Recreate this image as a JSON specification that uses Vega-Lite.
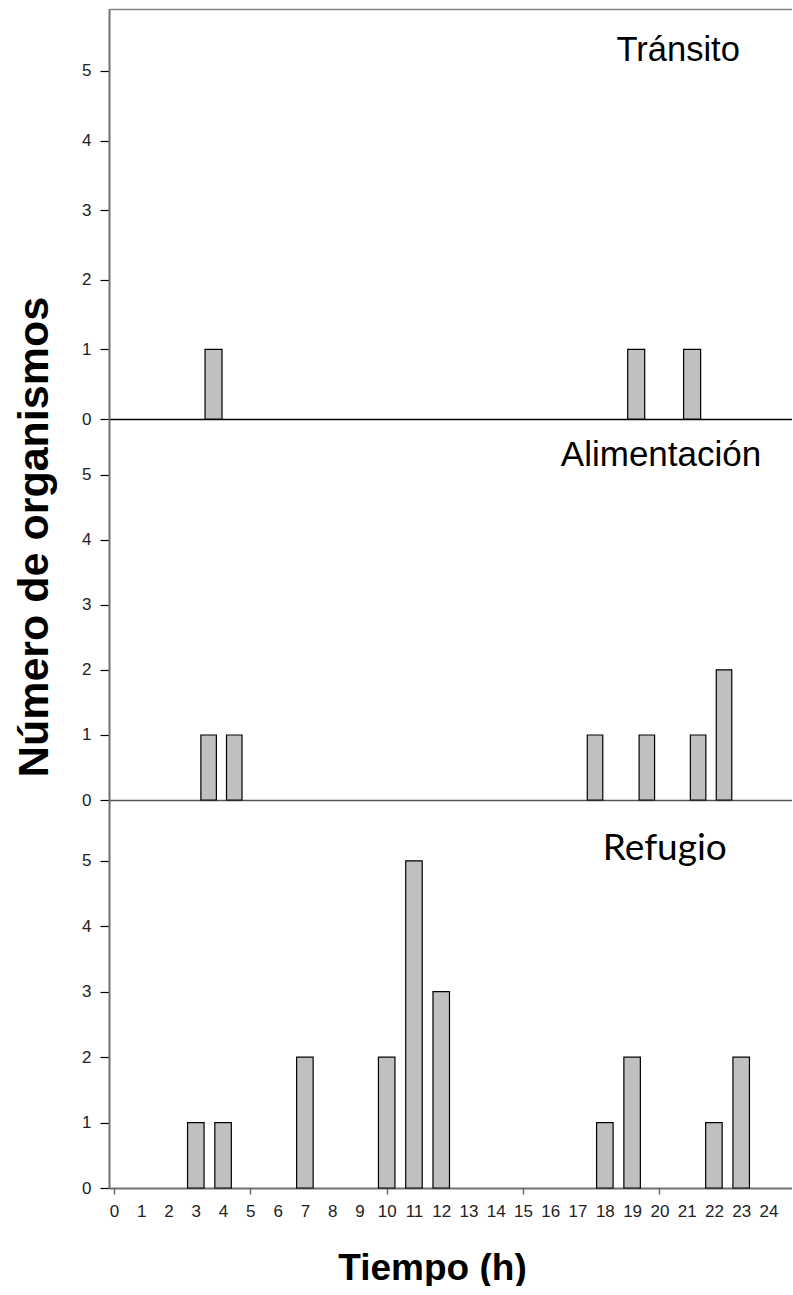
{
  "$schema": "https://vega.github.io/schema/vega-lite/v6.json",
  "background": "white",
  "padding": {"left": 12, "top": 9, "right": 0, "bottom": 0},
  "spacing": 0,
  "bounds": "flush",
  "config": {
    "view": {"stroke": null},
    "axis": {"labelFont": "Liberation Sans", "labelFontSize": 17, "titleFont": "Liberation Sans", "grid": false}
  },
  "datasets": {
    "transito": [
      {"hora": 3.65, "n": 1},
      {"hora": 19.15, "n": 1},
      {"hora": 21.2, "n": 1}
    ],
    "alimentacion": [
      {"hora": 3.47, "n": 1},
      {"hora": 4.41, "n": 1},
      {"hora": 17.64, "n": 1},
      {"hora": 19.54, "n": 1},
      {"hora": 21.42, "n": 1},
      {"hora": 22.37, "n": 2}
    ],
    "refugio": [
      {"hora": 3, "n": 1},
      {"hora": 4, "n": 1},
      {"hora": 7, "n": 2},
      {"hora": 10, "n": 2},
      {"hora": 11, "n": 5},
      {"hora": 12, "n": 3},
      {"hora": 18, "n": 1},
      {"hora": 19, "n": 2},
      {"hora": 22, "n": 1},
      {"hora": 23, "n": 2}
    ]
  },
  "vconcat": [
    {
      "width": 683,
      "height": 410,
      "layer": [
        {
          "data": {"name": "transito"},
          "mark": {"type": "bar", "width": 17, "fill": "#c0c0c0", "stroke": "#000000", "strokeWidth": 1.2},
          "encoding": {
            "x": {"field": "hora", "type": "quantitative", "scale": {"domain": [0, 24.68], "nice": false, "zero": false},
              "axis": {"orient": "bottom", "labels": false, "ticks": false, "title": null, "domainColor": "#000000", "domainWidth": 1.5}},
            "y": {"field": "n", "type": "quantitative", "scale": {"domain": [0, 5.89], "nice": false},
              "axis": {"orient": "left", "values": [0, 1, 2, 3, 4, 5], "format": "d", "tickSize": 9, "tickColor": "#000000", "tickWidth": 1.2, "labelPadding": 9, "labelFontSize": 17, "labelColor": "#222222", "domainColor": "#707070", "domainWidth": 2, "title": null}}
          }
        },
        {
          "data": {"values": [{"panel": "Tránsito"}]},
          "mark": {"type": "text", "font": "Liberation Sans", "fontSize": 34.5, "align": "center", "baseline": "alphabetic", "color": "#000000"},
          "encoding": {
            "x": {"datum": 20.69, "type": "quantitative", "axis": {"orient": "top", "labels": false, "ticks": false, "title": null, "domainColor": "#808080", "domainWidth": 1.5}},
            "y": {"datum": 5.14, "type": "quantitative", "axis": null},
            "text": {"field": "panel"}
          }
        }
      ],
      "resolve": {"axis": {"x": "independent", "y": "independent"}}
    },
    {
      "width": 683,
      "height": 381,
      "layer": [
        {
          "data": {"name": "alimentacion"},
          "mark": {"type": "bar", "width": 15.5, "fill": "#c0c0c0", "stroke": "#000000", "strokeWidth": 1.2},
          "encoding": {
            "x": {"field": "hora", "type": "quantitative", "scale": {"domain": [0, 24.68], "nice": false, "zero": false},
              "axis": {"orient": "bottom", "labels": false, "ticks": false, "title": null, "domainColor": "#555555", "domainWidth": 1.5}},
            "y": {"field": "n", "type": "quantitative", "scale": {"domain": [0, 5.86], "nice": false},
              "axis": {"orient": "left", "values": [0, 1, 2, 3, 4, 5], "format": "d", "tickSize": 9, "tickColor": "#000000", "tickWidth": 1.2, "labelPadding": 9, "labelFontSize": 17, "labelColor": "#222222", "domainColor": "#707070", "domainWidth": 2,
                "title": "Número de organismos", "titleFontSize": 43, "titleFontWeight": "bold", "titleColor": "#000000", "titleAngle": 270, "titleAlign": "center", "titleBaseline": "alphabetic", "titleX": -62, "titleY": 117.5}}
          }
        },
        {
          "data": {"values": [{"panel": "Alimentación"}]},
          "mark": {"type": "text", "font": "Liberation Sans", "fontSize": 35, "align": "center", "baseline": "alphabetic", "color": "#000000"},
          "encoding": {
            "x": {"datum": 20.06, "type": "quantitative", "axis": null},
            "y": {"datum": 5.13, "type": "quantitative", "axis": null},
            "text": {"field": "panel"}
          }
        }
      ],
      "resolve": {"axis": {"x": "independent", "y": "independent"}}
    },
    {
      "width": 683,
      "height": 388,
      "layer": [
        {
          "data": {"name": "refugio"},
          "mark": {"type": "bar", "width": 16.5, "fill": "#c0c0c0", "stroke": "#000000", "strokeWidth": 1.2},
          "encoding": {
            "x": {"field": "hora", "type": "quantitative", "scale": {"domain": [0, 24.68], "nice": false, "zero": false},
              "axis": {"orient": "bottom", "values": [0, 1, 2, 3, 4, 5, 6, 7, 8, 9, 10, 11, 12, 13, 14, 15, 16, 17, 18, 19, 20, 21, 22, 23, 24], "format": "d",
                "labelFontSize": 17, "labelColor": "#222222", "labelOverlap": false, "labelFlush": false, "labelBound": false, "labelPadding": 9,
                "tickSize": 6, "tickColor": "#707070", "tickWidth": 1.5,
                "tickOpacity": {"condition": {"test": "datum.value % 5 === 0", "value": 1}, "value": 0},
                "domainColor": "#707070", "domainWidth": 2,
                "title": "Tiempo (h)", "titleFontSize": 37, "titleFontWeight": "bold", "titleColor": "#000000", "titleAlign": "center", "titleBaseline": "alphabetic", "titleX": 323, "titleY": 91}},
            "y": {"field": "n", "type": "quantitative", "scale": {"domain": [0, 5.93], "nice": false},
              "axis": {"orient": "left", "values": [0, 1, 2, 3, 4, 5], "format": "d", "tickSize": 9, "tickColor": "#000000", "tickWidth": 1.2, "labelPadding": 9, "labelFontSize": 17, "labelColor": "#222222", "domainColor": "#707070", "domainWidth": 2, "title": null}}
          }
        },
        {
          "data": {"values": [{"panel": "Refugio"}]},
          "mark": {"type": "text", "font": "Lato", "fontSize": 37, "align": "center", "baseline": "alphabetic", "color": "#000000"},
          "encoding": {
            "x": {"datum": 20.2, "type": "quantitative", "axis": null},
            "y": {"datum": 5.02, "type": "quantitative", "axis": null},
            "text": {"field": "panel"}
          }
        }
      ],
      "resolve": {"axis": {"x": "independent", "y": "independent"}}
    }
  ]
}
